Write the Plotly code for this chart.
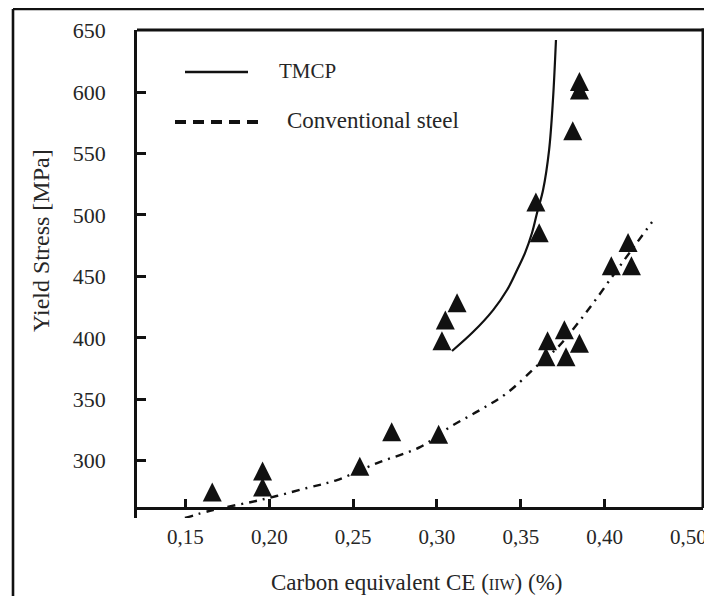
import plotly.graph_objects as go

# ---------------- data ----------------
tmcp_ce = [0.303, 0.305, 0.312, 0.359, 0.361, 0.381, 0.385, 0.385]
tmcp_ys = [395, 412, 426, 508, 483, 566, 606, 599]

conv_ce = [0.166, 0.196, 0.196, 0.254, 0.273, 0.301,
           0.414, 0.404, 0.416, 0.376, 0.366, 0.385, 0.365, 0.377]
conv_ys = [272, 289, 276, 293, 321, 319,
           475, 456, 456, 404, 395, 393, 382, 382]

tmcp_fit_ce = [0.3090, 0.3215, 0.3335, 0.3418, 0.3478, 0.3525, 0.3567,
               0.3597, 0.3633, 0.3669, 0.3692, 0.3710]
tmcp_fit_ys = [389.3, 404.7, 422.6, 438.9, 455.2, 469.0, 485.3,
               501.6, 520.3, 552.8, 593.5, 642.4]

conv_fit_ce = [0.1497, 0.1665, 0.1945, 0.2225, 0.2404, 0.2643, 0.2899,
               0.3078, 0.3257, 0.3418, 0.3615, 0.3722, 0.3901, 0.4044,
               0.4152, 0.4283]
conv_fit_ys = [253.4, 259.9, 268.0, 277.8, 284.3, 298.1, 311.1,
               327.4, 341.3, 355.1, 379.5, 392.5, 422.6, 449.5,
               469.8, 494.2]

x_tickvals = [0.15, 0.20, 0.25, 0.30, 0.35, 0.40]
x_ticktext = ["0,15", "0,20", "0,25", "0,30", "0,35", "0,40"]
x_last_label_pos = 0.45
x_last_label = "0,50"
y_tickvals = [300, 350, 400, 450, 500, 550, 600, 650]

legend_names = ["TMCP", "Conventional steel"]

# ---------------- layout constants ----------------
OFF = 8                     # page body margin of the html page
W, H = 700, 588
# plot area in picture pixels
PLOT_L, PLOT_R, PLOT_T, PLOT_B = 137, 703, 30, 518
X_RANGE = [0.1211, 0.4587]
Y_RANGE = [253.4, 650.5]
XAXIS_PX = 508              # picture row of the x axis line
MARKER_SIZE = 19
INK = "#111111"
TXT = "#262626"
FONT = "Liberation Serif"


def pp(xp, yp):
    """picture pixel -> paper coordinates"""
    return ((xp - PLOT_L) / (PLOT_R - PLOT_L),
            (PLOT_B - yp) / (PLOT_B - PLOT_T))


px_per_unit = (PLOT_B - PLOT_T) / (Y_RANGE[1] - Y_RANGE[0])
# arrow-up marker has its apex at the point; shift so the centroid sits on it
offset_units = (2.0 / 3.0 * MARKER_SIZE) / px_per_unit
Y2_RANGE = [Y_RANGE[0] - offset_units, Y_RANGE[1] - offset_units]

fig = go.Figure()

fig.add_trace(go.Scatter(x=conv_fit_ce, y=conv_fit_ys, mode="lines",
                         line=dict(color=INK, width=2.4, shape="spline",
                                   dash="8px,6px,2px,6px"),
                         name=legend_names[1], showlegend=False))
fig.add_trace(go.Scatter(x=tmcp_fit_ce, y=tmcp_fit_ys, mode="lines",
                         line=dict(color=INK, width=2.2, shape="spline"),
                         name=legend_names[0], showlegend=False))

marker = dict(symbol="arrow-up", size=MARKER_SIZE, color=INK,
              line=dict(width=0))
fig.add_trace(go.Scatter(x=conv_ce, y=conv_ys, mode="markers", marker=marker,
                         yaxis="y2", showlegend=False, cliponaxis=False))
fig.add_trace(go.Scatter(x=tmcp_ce, y=tmcp_ys, mode="markers", marker=marker,
                         yaxis="y2", showlegend=False, cliponaxis=False))

xpos = pp(0, XAXIS_PX)[1]

shapes = []
# plot box: top and right
shapes.append(dict(type="line", xref="paper", yref="paper", x0=0, x1=1.003,
                   y0=1, y1=1, layer="above", line=dict(color=INK, width=3)))
shapes.append(dict(type="line", xref="paper", yref="paper", x0=1, x1=1,
                   y0=xpos, y1=1.003, layer="above", line=dict(color=INK, width=3)))
# outer frame (left and top)
fx0, fy0 = pp(13, 9)
fx1, fy1 = pp(730, 640)
shapes.append(dict(type="line", xref="paper", yref="paper", x0=fx0, x1=fx0,
                   y0=fy1, y1=fy0, layer="above", line=dict(color=INK, width=2.6)))
shapes.append(dict(type="line", xref="paper", yref="paper", x0=fx0, x1=fx1,
                   y0=fy0, y1=fy0, layer="above", line=dict(color=INK, width=2.6)))
# custom legend samples
a0, ay = pp(185, 72)
a1, _ = pp(248, 72)
shapes.append(dict(type="line", xref="paper", yref="paper", x0=a0, x1=a1,
                   y0=ay, y1=ay, line=dict(color=INK, width=2.4)))
b0, by = pp(175, 122)
b1, _ = pp(262, 122)
shapes.append(dict(type="line", xref="paper", yref="paper", x0=b0, x1=b1,
                   y0=by, y1=by, line=dict(color=INK, width=4,
                                           dash="11px,7px")))

annotations = []
tx, ty = pp(277, 71)
annotations.append(dict(text=legend_names[0], xref="paper", yref="paper",
                        x=tx, y=ty, xanchor="left", yanchor="middle",
                        showarrow=False, font=dict(family=FONT, size=21, color=TXT)))
tx, ty = pp(285, 120)
annotations.append(dict(text=legend_names[1], xref="paper", yref="paper",
                        x=tx, y=ty, xanchor="left", yanchor="middle",
                        showarrow=False, font=dict(family=FONT, size=23, color=TXT)))
# axis titles
tx, ty = pp(41, 241)
annotations.append(dict(text="Yield Stress [MPa]", xref="paper", yref="paper",
                        x=tx, y=ty, xanchor="center", yanchor="middle",
                        textangle=-90, showarrow=False,
                        font=dict(family=FONT, size=24, color=TXT)))
tx, ty = pp(416, 582)
annotations.append(dict(text="Carbon equivalent CE (<span style='font-size:16px'>IIW</span>) (%)",
                        xref="paper", yref="paper",
                        x=tx, y=ty, xanchor="center", yanchor="middle",
                        showarrow=False, font=dict(family=FONT, size=23, color=TXT)))
# last x label (no tick mark in the reference)
_, ty = pp(0, 537)
annotations.append(dict(text=x_last_label, xref="x", yref="paper",
                        x=x_last_label_pos, y=ty, xanchor="center", yanchor="middle",
                        showarrow=False, font=dict(family=FONT, size=21, color=TXT)))

fig.update_layout(
    width=W, height=H,
    margin=dict(l=PLOT_L - OFF, r=W - (PLOT_R - OFF), t=PLOT_T - OFF,
                b=H - (PLOT_B - OFF), pad=0),
    paper_bgcolor="white", plot_bgcolor="white",
    showlegend=False,
    xaxis=dict(range=X_RANGE, anchor="free", position=xpos,
               showline=True, linecolor=INK, linewidth=2.6,
               ticks="inside", ticklen=8, tickwidth=2.6, tickcolor=INK,
               tickvals=x_tickvals, ticktext=x_ticktext,
               ticklabelstandoff=9,
               tickfont=dict(family=FONT, size=21, color=TXT),
               showgrid=False, zeroline=False),
    yaxis=dict(range=Y_RANGE, showline=True, linecolor=INK, linewidth=2.6,
               ticks="inside", ticklen=9, tickwidth=2.6, tickcolor=INK,
               tickvals=y_tickvals, ticklabelstandoff=24,
               tickfont=dict(family=FONT, size=22, color=TXT),
               showgrid=False, zeroline=False),
    yaxis2=dict(range=Y2_RANGE, overlaying="y", visible=False),
    shapes=shapes,
    annotations=annotations,
)

fig.write_html("out.html")
